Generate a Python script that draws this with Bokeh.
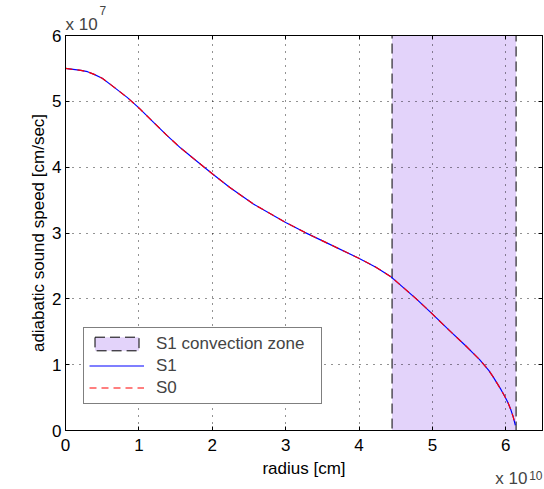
from bokeh.plotting import figure
from bokeh.models import (LinearAxis, FixedTicker, CustomJSTickFormatter, Range1d,
                          Legend, LegendItem, Title)
from bokeh.embed import file_html
from bokeh.resources import INLINE

# ---- data ----
radius_cm = [0.0, 0.21e10, 0.30e10, 0.39e10, 0.50e10, 0.62e10, 0.84e10, 1.00e10,
             1.20e10, 1.385e10, 1.57e10, 1.79e10, 2.00e10, 2.24e10, 2.56e10, 3.00e10,
             3.26e10, 3.56e10, 3.99e10, 4.23e10, 4.44e10, 4.78e10, 4.98e10, 5.23e10,
             5.46e10, 5.55e10, 5.64e10, 5.71e10, 5.77e10, 5.83e10, 5.88e10, 5.935e10,
             5.985e10, 6.03e10, 6.07e10, 6.10e10, 6.13e10]
sound_s1 = [5.50e7, 5.47e7, 5.45e7, 5.41e7, 5.35e7, 5.25e7, 5.06e7, 4.90e7,
            4.68e7, 4.48e7, 4.29e7, 4.09e7, 3.90e7, 3.69e7, 3.44e7, 3.16e7,
            3.01e7, 2.85e7, 2.62e7, 2.48e7, 2.33e7, 2.00e7, 1.79e7, 1.52e7,
            1.28e7, 1.18e7, 1.08e7, 0.99e7, 0.91e7, 0.81e7, 0.72e7, 0.62e7,
            0.52e7, 0.42e7, 0.31e7, 0.21e7, 0.08e7]
sound_s0 = [5.50e7, 5.47e7, 5.45e7, 5.41e7, 5.35e7, 5.25e7, 5.06e7, 4.90e7,
            4.68e7, 4.48e7, 4.29e7, 4.09e7, 3.90e7, 3.69e7, 3.44e7, 3.16e7,
            3.01e7, 2.85e7, 2.62e7, 2.48e7, 2.33e7, 2.00e7, 1.79e7, 1.52e7,
            1.28e7, 1.18e7, 1.08e7, 0.99e7, 0.91e7, 0.81e7, 0.72e7, 0.62e7,
            0.52e7, 0.42e7, 0.31e7, 0.21e7, 0.08e7]
zone_left = [4.45e10]
zone_right = [6.14e10]
zone_bottom = [0.0]
zone_top = [6e7]
x_ticks = [0, 1e10, 2e10, 3e10, 4e10, 5e10, 6e10]
y_ticks = [0, 1e7, 2e7, 3e7, 4e7, 5e7, 6e7]

FONT = "Liberation Sans"
FS = "17px"

p = figure(width=544, height=489, x_range=Range1d(0, 6.5e10), y_range=Range1d(0, 6e7),
           output_backend="svg", toolbar_location=None,
           min_border_left=65, min_border_right=2, min_border_top=35, min_border_bottom=59)
p.background_fill_color = "white"
p.border_fill_color = "white"
p.outline_line_color = "black"
p.outline_line_width = 1

zone = p.quad(left=zone_left, right=zone_right, bottom=zone_bottom, top=zone_top,
              fill_color="#E3D3FA", line_color="black", line_dash="10 5", line_width=1,
              level="image")
l1 = p.line(radius_cm, sound_s1, line_color="blue", line_width=1.2)
l0 = p.line(radius_cm, sound_s0, line_color="red", line_width=1.2, line_dash="7 5")


def style_axis(ax, ticks, fmt):
    ax.ticker = FixedTicker(ticks=ticks)
    ax.formatter = CustomJSTickFormatter(code=fmt)
    ax.major_tick_in = 4
    ax.major_tick_out = 0
    ax.minor_tick_line_color = None
    ax.axis_line_color = "black"
    ax.major_tick_line_color = "black"
    ax.major_label_text_font = FONT
    ax.major_label_text_font_size = FS
    ax.major_label_text_color = "black"
    ax.axis_label_text_font = FONT
    ax.axis_label_text_font_size = FS
    ax.axis_label_text_font_style = "normal"
    ax.axis_label_text_color = "black"


xa = p.xaxis[0]
style_axis(xa, x_ticks, "return (tick/1e10).toFixed(0);")
xa.axis_label = "radius [cm]"
xa.major_label_standoff = 8
xa.axis_label_standoff = 5

ya = p.yaxis[0]
style_axis(ya, y_ticks, "return (tick/1e7).toFixed(0);")
ya.axis_label = "adiabatic sound speed [cm/sec]"
ya.major_label_standoff = 4
ya.axis_label_standoff = 1

top_ax = LinearAxis()
style_axis(top_ax, x_ticks, "return '';")
top_ax.major_label_standoff = 0
top_ax.major_label_text_font_size = "0px"
p.add_layout(top_ax, "above")
right_ax = LinearAxis()
style_axis(right_ax, y_ticks, "return '';")
right_ax.major_label_standoff = 0
right_ax.major_label_text_font_size = "0px"
p.add_layout(right_ax, "right")

for g, t in ((p.xgrid[0], x_ticks), (p.ygrid[0], y_ticks)):
    g.ticker = FixedTicker(ticks=t)
    g.grid_line_color = "black"
    g.grid_line_alpha = 0.85
    g.grid_line_dash = "1 6"
    g.grid_line_width = 1

legend = Legend(items=[LegendItem(label="S1 convection zone", renderers=[zone]),
                       LegendItem(label="S1", renderers=[l1]),
                       LegendItem(label="S0", renderers=[l0])],
                location=(18, 26), label_text_font=FONT, label_text_font_size=FS,
                glyph_width=55, glyph_height=17, label_height=21, label_width=160,
                label_standoff=12, spacing=1, padding=5, margin=0,
                border_line_color="black", border_line_width=1,
                background_fill_color="white", background_fill_alpha=1.0)
p.add_layout(legend, "center")

# exponent annotations ("x 10^7" above the frame, "x 10^10" below it)
p.add_layout(Title(text="x 10", align="left", offset=0, standoff=3.5, vertical_align="bottom",
                   text_font=FONT, text_font_size=FS, text_font_style="normal"), "above")
p.add_layout(Title(text="7", align="left", offset=34, standoff=-9, vertical_align="bottom",
                   text_font=FONT, text_font_size="12px", text_font_style="normal"), "above")
p.add_layout(Title(text="10", align="right", offset=0, standoff=-19.5, vertical_align="top",
                   text_font=FONT, text_font_size="12px", text_font_style="normal"), "below")
p.add_layout(Title(text="x 10", align="right", offset=15, standoff=-22.5, vertical_align="top",
                   text_font=FONT, text_font_size=FS, text_font_style="normal"), "below")

open("out.html", "w").write(file_html(p, INLINE))
